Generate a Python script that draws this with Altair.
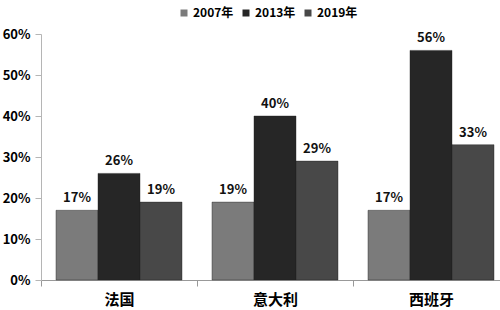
import altair as alt
import pandas as pd

countries = ["法国", "意大利", "西班牙"]
years = ["2007年", "2013年", "2019年"]
v2007 = [0.17, 0.19, 0.17]
v2013 = [0.26, 0.40, 0.56]
v2019 = [0.19, 0.29, 0.33]
colors = ["#7b7b7b", "#262626", "#484848"]

rows = []
for series, vals in zip(years, [v2007, v2013, v2019]):
    for c, v in zip(countries, vals):
        rows.append({"country": c, "year": series, "value": v})
df = pd.DataFrame(rows)

FONT = "Noto Sans CJK SC"

x = alt.X("country:N", sort=countries, title=None,
          scale=alt.Scale(range=[0, 468], paddingInner=0, paddingOuter=0),
          axis=alt.Axis(labelAngle=0, tickBand="extent", tickSize=6, labelPadding=6,
                        labelFont=FONT, labelFontSize=15, labelFontWeight="bold",
                        labelColor="#000", domainColor="#999", tickColor="#999"))
xo = alt.XOffset("year:N", sort=years,
                 scale=alt.Scale(paddingInner=0, paddingOuter=0.357))
y = alt.Y("value:Q", title=None,
          scale=alt.Scale(domain=[0, 0.6], nice=False),
          axis=alt.Axis(format=".0%", values=[0, 0.1, 0.2, 0.3, 0.4, 0.5, 0.6],
                        grid=False, tickSize=6, labelPadding=5,
                        labelFont=FONT, labelFontSize=13, labelFontWeight="bold",
                        labelColor="#000", domainColor="#b5b5b5", tickColor="#b5b5b5"))

bars = alt.Chart(df).mark_bar(stroke="#222", strokeWidth=0.4).encode(
    x=x, xOffset=xo, y=y,
    color=alt.Color("year:N", sort=years,
                    scale=alt.Scale(domain=years, range=colors),
                    legend=alt.Legend(title=None, orient="none", legendX=137, legendY=-27,
                                      direction="horizontal", columns=3,
                                      symbolType="square", symbolSize=49,
                                      symbolStrokeWidth=0, labelOffset=3,
                                      columnPadding=6,
                                      labelFont=FONT, labelFontSize=12,
                                      labelFontWeight="bold", labelColor="#000")),
)

labels = alt.Chart(df).mark_text(dy=-12, font=FONT, fontSize=13, fontWeight="bold",
                                 color="#111").encode(
    x=x, xOffset=xo, y=y,
    text=alt.Text("value:Q", format=".0%"),
)

chart = alt.layer(bars, labels).properties(
    width=459, height=246,
    autosize=alt.AutoSizeParams(type="none"),
    padding={"left": 41, "top": 34, "right": 0, "bottom": 30},
    background="white",
).configure_view(stroke=None)

chart.save("out.html", embed_options={"renderer": "svg", "actions": False})
